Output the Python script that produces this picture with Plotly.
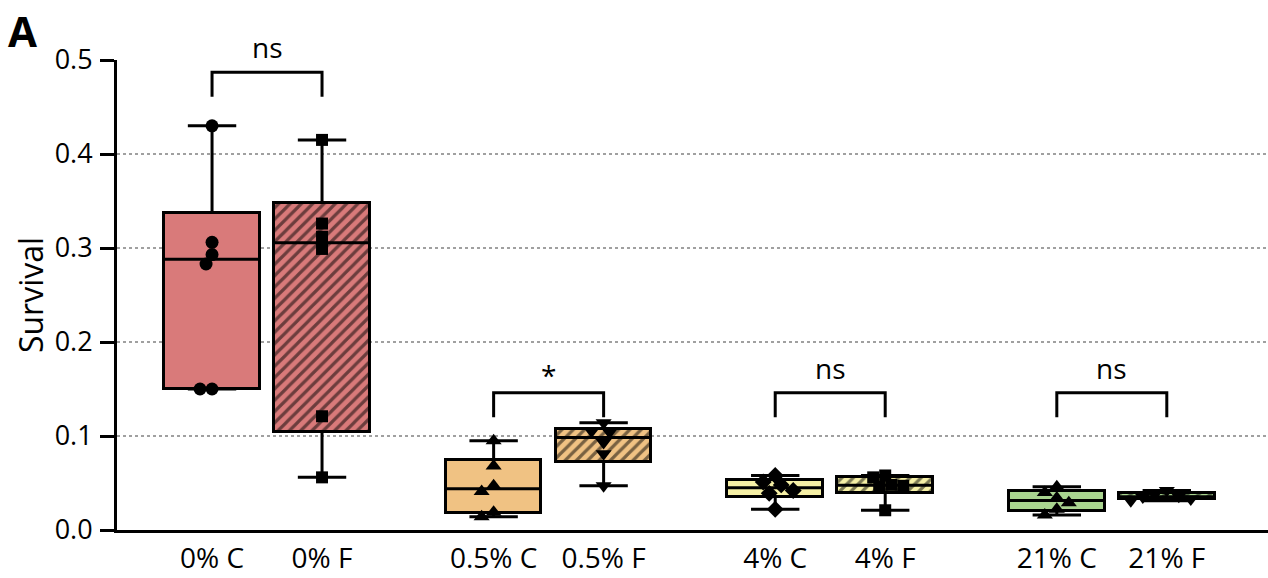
import math
import plotly.graph_objects as go

# Survival per replicate, by O2 level (C = control, F = treated)
labels = ["0% C", "0% F", "0.5% C", "0.5% F", "4% C", "4% F", "21% C", "21% F"]
surv_0_C = [0.430, 0.306, 0.293, 0.283, 0.150, 0.150]
surv_0_F = [0.415, 0.326, 0.312, 0.299, 0.121, 0.056]
surv_05_C = [0.095, 0.068, 0.047, 0.041, 0.019, 0.014]
surv_05_F = [0.114, 0.105, 0.104, 0.093, 0.081, 0.047]
surv_4_C = [0.058, 0.051, 0.048, 0.042, 0.039, 0.022]
surv_4_F = [0.058, 0.056, 0.048, 0.047, 0.046, 0.021]
surv_21_C = [0.046, 0.040, 0.034, 0.029, 0.022, 0.016]
surv_21_F = [0.042, 0.038, 0.036, 0.035, 0.033, 0.031]
significance = ["ns", "*", "ns", "ns"]

series = [surv_0_C, surv_0_F, surv_05_C, surv_05_F, surv_4_C, surv_4_F, surv_21_C, surv_21_F]

# styling
fills = ["#d97a7a", "#d97a7a", "#f0c283", "#f0c283", "#f6f0a6", "#f6f0a6", "#a9d48f", "#a9d48f"]
symbols = ["circle", "square", "triangle-up", "triangle-down", "diamond", "square", "triangle-up", "triangle-down"]
sizes = [13, 12, 14, 14, 13, 12, 14, 14]
hatched = [False, True] * 4
GROUP_STEP = 2.56
positions = [g * GROUP_STEP + k for g in range(4) for k in (0, 1)]
BOX_W = 0.87
CAP_W = 0.44
PX_X = 110.0   # pixels per x unit
PX_Y = 940.0   # pixels per y unit
MARKER = 12
FONT = "Open Sans, DejaVu Sans, sans-serif"


def quantile(vals, p):
    s = sorted(vals)
    n = len(s)
    h = (n + 1) * p
    k = int(math.floor(h))
    frac = h - k
    if k < 1:
        return s[0]
    if k >= n:
        return s[-1]
    return s[k - 1] + frac * (s[k] - s[k - 1])


def swarm(vals):
    placed = []
    order = sorted(range(len(vals)), key=lambda i: -vals[i])
    res = [0.0] * len(vals)
    step = MARKER / 2.0
    for i in order:
        y = vals[i] * PX_Y
        cand = 0
        for j in range(0, 12):
            cand = 0 if j == 0 else ((j + 1) // 2) * step * (-1 if j % 2 else 1)
            if all(math.hypot(cand - px, y - py) >= MARKER * 0.9 for px, py in placed):
                break
        placed.append((cand, y))
        res[i] = cand / PX_X
    return res


fig = go.Figure()

# boxes (Q1..Q3)
for vals, x, fill, hatch in zip(series, positions, fills, hatched):
    q1, q3 = quantile(vals, 0.25), quantile(vals, 0.75)
    pattern = dict(shape="/", fgcolor="black", bgcolor=fill, size=8, solidity=0.4) if hatch else dict(shape="")
    fig.add_trace(go.Bar(
        x=[x], y=[q3 - q1], base=[q1], width=BOX_W,
        marker=dict(color=fill, line=dict(color="black", width=3), pattern=pattern),
        showlegend=False, hoverinfo="skip",
    ))

# medians and min-max whiskers with caps
for vals, x in zip(series, positions):
    q1, med, q3 = quantile(vals, 0.25), quantile(vals, 0.5), quantile(vals, 0.75)
    lo, hi = min(vals), max(vals)
    xs = [x - BOX_W / 2, x + BOX_W / 2, None,
          x, x, None, x - CAP_W / 2, x + CAP_W / 2, None,
          x, x, None, x - CAP_W / 2, x + CAP_W / 2]
    ys = [med, med, None,
          q3, hi, None, hi, hi, None,
          q1, lo, None, lo, lo]
    fig.add_trace(go.Scatter(x=xs, y=ys, mode="lines", line=dict(color="black", width=3),
                             showlegend=False, hoverinfo="skip", connectgaps=False))

# individual replicates
for vals, x, sym, sz in zip(series, positions, symbols, sizes):
    offs = swarm(vals)
    fig.add_trace(go.Scatter(
        x=[x + o for o in offs], y=vals, mode="markers",
        marker=dict(symbol=sym, size=sz, color="black", line=dict(width=0)),
        showlegend=False, cliponaxis=False,
    ))

# significance brackets
bracket_top = [0.487, 0.146, 0.146, 0.146]
bracket_leg = 0.026
for g, sig in enumerate(significance):
    x0, x1 = positions[2 * g], positions[2 * g + 1]
    top = bracket_top[g]
    fig.add_trace(go.Scatter(
        x=[x0, x0, x1, x1], y=[top - bracket_leg, top, top, top - bracket_leg],
        mode="lines", line=dict(color="black", width=3), showlegend=False,
        hoverinfo="skip", cliponaxis=False,
    ))
    fig.add_annotation(x=(x0 + x1) / 2, y=top, yref="y", text=sig, showarrow=False,
                       yanchor="bottom", yshift=4 if sig == "ns" else -3,
                       font=dict(size=28, color="black", family=FONT))

# panel letter
fig.add_annotation(xref="paper", yref="paper", x=-111 / 1151, y=1 + 60 / 470,
                   xanchor="left", yanchor="top", text="<b>A</b>", showarrow=False,
                   font=dict(size=42, color="black", family=FONT))

fig.update_layout(
    width=1268, height=578,
    margin=dict(l=117, r=0, t=60, b=48),
    plot_bgcolor="white", paper_bgcolor="white",
    font=dict(family=FONT, size=27, color="black"),
    bargap=0, barmode="overlay",
)
fig.update_xaxes(
    range=[-0.864, 9.6], tickvals=positions, ticktext=labels,
    showline=True, linecolor="black", linewidth=3, ticks="", showgrid=False, zeroline=False,
    ticklabelstandoff=1, tickfont=dict(size=28),
)
fig.update_yaxes(
    range=[0, 0.5], dtick=0.1, tickformat=".1f",
    showline=True, linecolor="black", linewidth=3, ticks="outside", ticklen=14, tickwidth=3,
    tickcolor="black", showgrid=True, gridcolor="#a0a0a0", griddash="dot", gridwidth=1.5,
    zeroline=False, tickfont=dict(size=27), ticklabelstandoff=2,
    title=dict(text="Survival", font=dict(size=32), standoff=2),
)

fig.write_html("out.html")
